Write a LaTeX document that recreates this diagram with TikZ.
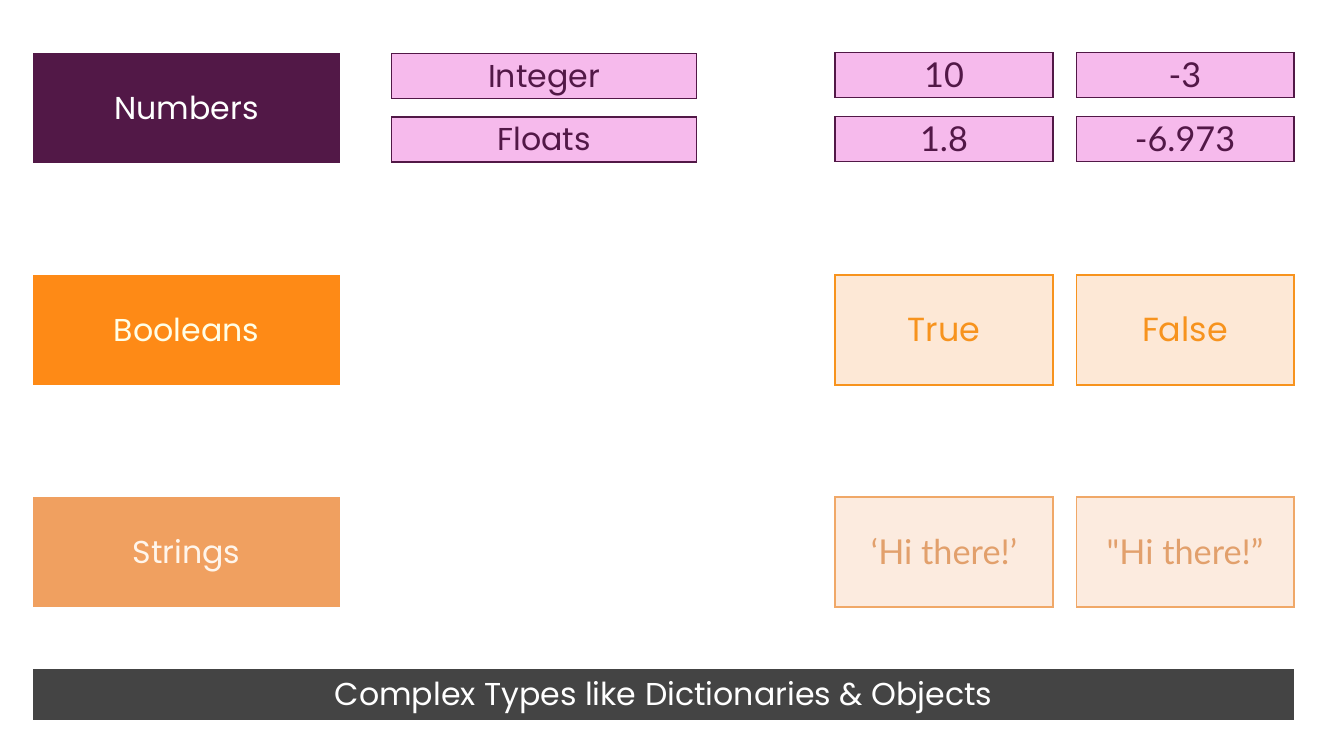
\documentclass[tikz,border=0pt]{standalone}
\usepackage{fontspec}
\setmainfont{Poppins}
\newfontfamily\valfont{Lato}
\usepackage{tikz}

\definecolor{plum}{HTML}{521847}
\definecolor{pinkfill}{HTML}{F6BAEC}
\definecolor{boolorange}{HTML}{FE8A16}
\definecolor{boolfill}{HTML}{FDE8D6}
\definecolor{boolline}{HTML}{F7931E}
\definecolor{strorange}{HTML}{F0A060}
\definecolor{strfill}{HTML}{FCEBDF}
\definecolor{strline}{HTML}{F0A868}
\definecolor{strtext}{HTML}{E2A06C}
\definecolor{bargrey}{HTML}{444444}

\begin{document}
\begin{tikzpicture}[x=0.02cm, y=-0.02cm,
    typebox/.style={minimum width=6.14cm, minimum height=2.2cm, inner sep=0pt,
      text height=12.6pt, text depth=0pt, font=\fontsize{18}{20}\selectfont},
    subbox/.style={draw=plum, line width=0.9pt, fill=pinkfill, text=plum,
      minimum width=6.1cm, minimum height=0.9cm, inner sep=0pt,
      text height=12.6pt, text depth=0pt, font=\fontsize{18}{20}\selectfont},
    numbox/.style={draw=plum, line width=0.9pt, fill=pinkfill, text=plum,
      minimum width=4.35cm, minimum height=0.9cm, inner sep=0pt,
      text height=14pt, text depth=0pt, font=\valfont\fontsize{19.5}{21}\selectfont},
    boolbox/.style={draw=boolline, line width=0.9pt, fill=boolfill, text=boolline,
      minimum width=4.35cm, minimum height=2.2cm, inner sep=0pt,
      text height=13.3pt, text depth=0pt, font=\fontsize{19}{21}\selectfont},
    strbox/.style={draw=strline, line width=0.9pt, fill=strfill, text=strtext,
      minimum width=4.35cm, minimum height=2.2cm, inner sep=0pt,
      text height=14pt, text depth=0pt, font=\valfont\fontsize{19.5}{21}\selectfont}]
  \useasboundingbox (0,0) rectangle (1344,745);
  % numbers row
  \node[typebox, fill=plum, text=white] (numbers) at (186.5,108) {Numbers};
  \node[subbox] (integer) at (544,76) {Integer};
  \node[subbox] (floats) at (544,139.5) {Floats};
  \node[numbox] (ten) at (944,75) {10};
  \node[numbox] (minusthree) at (1185,75) {-3};
  \node[numbox] (onepointeight) at (944,139) {1.8};
  \node[numbox] (minussix) at (1185,139) {-6.973};
  % booleans row
  \node[typebox, fill=boolorange, text=white!90!yellow] (booleans) at (186.5,330) {Booleans};
  \node[boolbox] (true) at (944,330) {True};
  \node[boolbox] (false) at (1185,330) {False};
  % strings row
  \node[typebox, fill=strorange, text=white!92!orange] (strings) at (186.5,552) {Strings};
  \node[strbox] (single) at (944,552) {‘Hi there!’};
  \node[strbox] (double) at (1185,552) {"Hi there!”};
  % bottom bar
  \node[fill=bargrey, text=white, minimum width=25.22cm, minimum height=1.02cm,
    inner sep=0pt, text height=12.6pt, text depth=0pt,
    font=\fontsize{18}{20}\selectfont] (complex) at (663.5,694.5)
    {Complex Types like Dictionaries \& Objects};
\end{tikzpicture}
\end{document}
